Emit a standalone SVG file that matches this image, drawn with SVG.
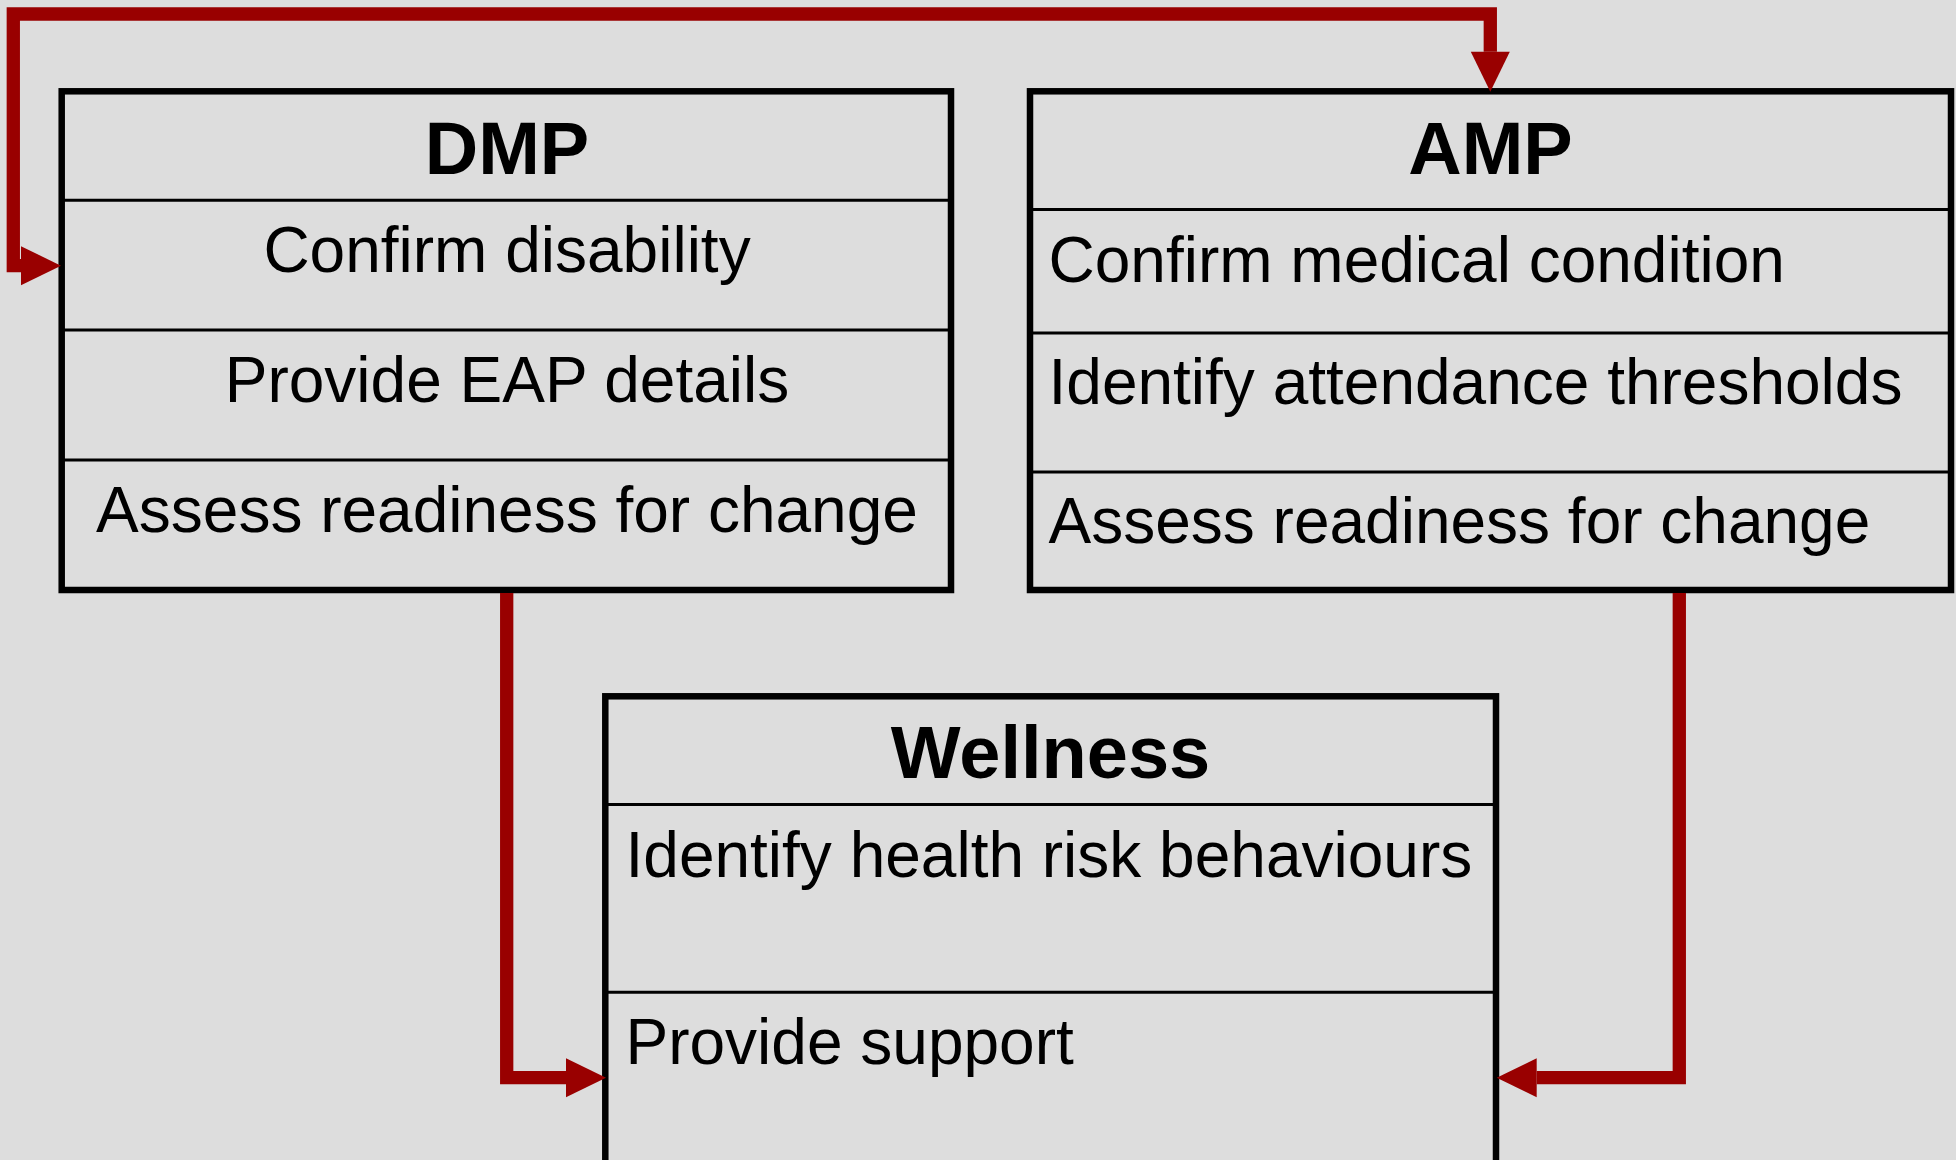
<svg xmlns="http://www.w3.org/2000/svg" width="1956" height="1160" viewBox="0 0 1956 1160">
  <defs>
    <style>
      .box { fill: #dddddd; stroke: #000000; stroke-width: 6.5; }
      .div { stroke: #000000; stroke-width: 3; fill: none; }
      .title { font-family: "Liberation Sans", Arial, sans-serif; font-weight: bold; font-size: 74px; fill: #000000; text-anchor: middle; }
      .item { font-family: "Liberation Sans", Arial, sans-serif; font-size: 64px; fill: #000000; }
      .mid { text-anchor: middle; }
      .link { fill: none; stroke: #990000; stroke-width: 13.3; stroke-linejoin: miter; stroke-linecap: butt; }
    </style>
    <marker id="head" markerUnits="userSpaceOnUse" markerWidth="41" markerHeight="40" refX="0" refY="19.5" orient="auto-start-reverse" overflow="visible">
      <path d="M0,0 L40,19.5 L0,39 Z" fill="#990000"/>
    </marker>
  </defs>

  <rect x="0" y="0" width="1956" height="1160" fill="#dddddd"/>

  <!-- DMP -->
  <g id="dmp">
    <rect class="box" x="61.7" y="91.3" width="889.3" height="498.7"/>
    <line class="div" x1="61.7" y1="200.3" x2="951" y2="200.3"/>
    <line class="div" x1="61.7" y1="330" x2="951" y2="330"/>
    <line class="div" x1="61.7" y1="460" x2="951" y2="460"/>
    <text class="title" x="507" y="174">DMP</text>
    <text class="item mid" x="507" y="272">Confirm disability</text>
    <text class="item mid" x="507" y="402">Provide EAP details</text>
    <text class="item mid" x="507" y="532">Assess readiness for change</text>
  </g>

  <!-- AMP -->
  <g id="amp">
    <rect class="box" x="1030" y="91.3" width="921" height="498.7"/>
    <line class="div" x1="1030" y1="209.5" x2="1951" y2="209.5"/>
    <line class="div" x1="1030" y1="333" x2="1951" y2="333"/>
    <line class="div" x1="1030" y1="472" x2="1951" y2="472"/>
    <text class="title" x="1490.5" y="174">AMP</text>
    <text class="item" x="1048.5" y="282">Confirm medical condition</text>
    <text class="item" x="1048.5" y="404">Identify attendance thresholds</text>
    <text class="item" x="1048.5" y="543">Assess readiness for change</text>
  </g>

  <!-- Wellness (continues below the bottom edge) -->
  <g id="wellness">
    <rect class="box" x="605.3" y="696.3" width="890.7" height="520"/>
    <line class="div" x1="605.3" y1="804.6" x2="1496" y2="804.6"/>
    <line class="div" x1="605.3" y1="992.2" x2="1496" y2="992.2"/>
    <text class="title" x="1050.5" y="778">Wellness</text>
    <text class="item" x="625.5" y="877">Identify health risk behaviours</text>
    <text class="item" x="625.5" y="1064">Provide support</text>
  </g>

  <!-- Connectors -->
  <g id="connectors">
    <path class="link" d="M21,265.7 H13.3 V14 H1490.3 V51.7" marker-start="url(#head)" marker-end="url(#head)"/>
    <path class="link" d="M506.7,593 V1077.7 H566" marker-end="url(#head)"/>
    <path class="link" d="M1679.3,593 V1077.7 H1536.7" marker-end="url(#head)"/>
  </g>
</svg>
